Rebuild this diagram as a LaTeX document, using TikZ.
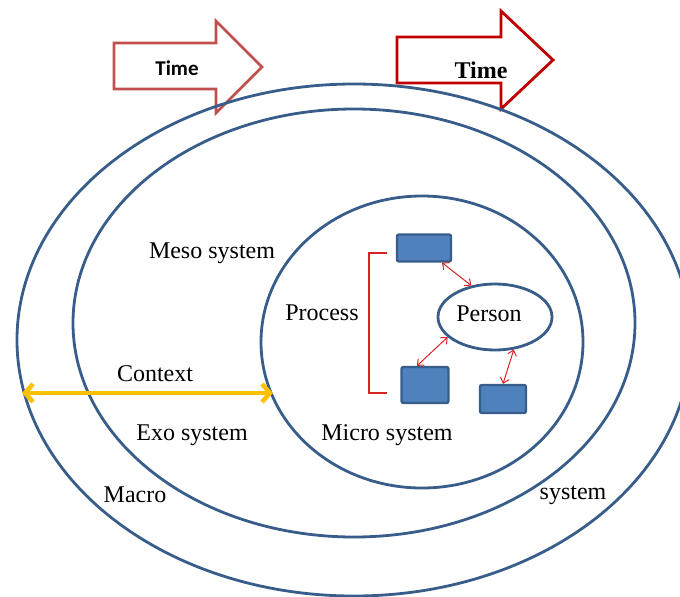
\documentclass[tikz,border=0pt]{standalone}
\usepackage{fontspec}
\setmainfont{Liberation Serif}
\newfontfamily\timefont{Carlito}
\usetikzlibrary{arrows.meta,shapes.geometric}
\definecolor{ringblue}{RGB}{56,93,138}
\definecolor{boxblue}{RGB}{79,129,189}
\definecolor{timelight}{RGB}{192,80,77}
\definecolor{timedark}{RGB}{192,0,0}
\definecolor{linkred}{RGB}{214,36,36}
\definecolor{ctxgold}{RGB}{255,192,0}
\begin{document}
\begin{tikzpicture}[x=1pt,y=-1pt,
    ring/.style={draw=ringblue,line width=2.8pt},
    unit/.style={draw=ringblue,fill=boxblue,line width=2.4pt,rounded corners=2pt,inner sep=0pt},
    lbl/.style={font=\fontsize{24}{28}\selectfont,inner sep=0pt},
    link/.style={draw=linkred,line width=1pt,{Straight Barb[length=5pt,width=9pt]}-{Straight Barb[length=5pt,width=9pt]}}]
  \useasboundingbox (0,0) rectangle (680,597);
  \draw[timelight,line width=2.6pt,fill=white] (114,43) -- (216,43) -- (216,21) -- (262,67) -- (216,113) -- (216,89) -- (114,89) -- cycle;
  \draw[timedark,line width=2.8pt,fill=white] (397,37) -- (501,37) -- (501,11) -- (553,60) -- (501,109) -- (501,83) -- (397,83) -- cycle;
  \node[inner sep=0pt,font=\timefont\bfseries\fontsize{21}{24}\selectfont] (timeA) at (177,68) {Time};
  \node[inner sep=0pt,font=\bfseries\fontsize{24}{27}\selectfont] (timeB) at (481,70) {Time};
  \draw[ring] (354,340) ellipse [x radius=337,y radius=256];
  \draw[ring] (354,323) ellipse [x radius=281,y radius=214];
  \draw[ring] (422,342) ellipse [x radius=161,y radius=146];
  \node[ellipse,ring,minimum width=114pt,minimum height=66pt] (person) at (495,317) {};
  \node[lbl] (personlbl) at (489,314) {Person};
  \node[unit,minimum width=54pt,minimum height=27pt] (box1) at (424,248) {};
  \node[unit,minimum width=47pt,minimum height=36pt] (box2) at (425,385) {};
  \node[unit,minimum width=46pt,minimum height=28pt] (box3) at (503,399) {};
  \draw[link] ([xshift=18pt]box1.south) -- (person.127);
  \draw[link] (person.203) -- ([xshift=-8pt]box2.north);
  \draw[link] (person.-60) -- (box3.north);
  \draw[linkred,line width=1.2pt] (387,253) -- (369,253) -- (369,393) -- (387,393);
  \coordinate (ctxL) at (22,393);
  \coordinate (ctxR) at (273,393);
  \draw[ctxgold,line width=4.5pt,line cap=round,{Straight Barb[length=8pt,width=18pt]}-{Straight Barb[length=8pt,width=18pt]}] (ctxL) -- (ctxR);
  \node[lbl] (meso) at (212,253) {Meso system};
  \node[lbl] (process) at (322,313) {Process};
  \node[lbl] (context) at (155,374) {Context};
  \node[lbl] (exo) at (192,435) {Exo system};
  \node[lbl] (micro) at (387,435) {Micro system};
  \node[lbl] (macro) at (135,495) {Macro};
  \node[lbl] (macrosys) at (573,495) {system};
\end{tikzpicture}
\end{document}
